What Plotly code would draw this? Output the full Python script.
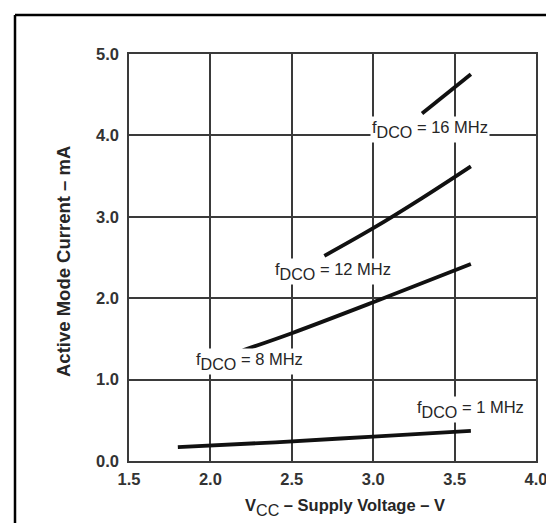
import plotly.graph_objects as go

# Data
v_1mhz = [1.8, 2.4, 3.0, 3.6]
i_1mhz = [0.17, 0.23, 0.30, 0.37]

v_8mhz = [2.2, 2.5, 3.0, 3.6]
i_8mhz = [1.36, 1.57, 1.95, 2.42]

v_12mhz = [2.7, 3.0, 3.3, 3.6]
i_12mhz = [2.52, 2.86, 3.23, 3.62]

v_16mhz = [3.3, 3.6]
i_16mhz = [4.27, 4.75]

x_ticks = [1.5, 2.0, 2.5, 3.0, 3.5, 4.0]
x_tick_labels = ["1.5", "2.0", "2.5", "3.0", "3.5", "4.0"]
y_ticks = [0.0, 1.0, 2.0, 3.0, 4.0, 5.0]
y_tick_labels = ["0.0", "1.0", "2.0", "3.0", "4.0", "5.0"]

labels = ["1 MHz", "8 MHz", "12 MHz", "16 MHz"]
label_x = [3.6, 2.24, 2.75, 3.35]
label_y = [0.63, 1.22, 2.33, 4.07]

FONT = "Liberation Sans, Arial, Helvetica, sans-serif"
GRID = "#3a3a3a"
TXT = "#262626"

fig = go.Figure()
for xs, ys in [(v_1mhz, i_1mhz), (v_8mhz, i_8mhz), (v_12mhz, i_12mhz), (v_16mhz, i_16mhz)]:
    fig.add_trace(go.Scatter(x=xs, y=ys, mode="lines",
                             line=dict(color="#111111", width=3.8, shape="spline"),
                             showlegend=False, hoverinfo="skip"))

annotations = []
for lab, lx, ly in zip(labels, label_x, label_y):
    annotations.append(dict(
        x=lx, y=ly, xref="x", yref="y", showarrow=False,
        text=('<span style="font-size:16.5px">f</span><sub>DCO</sub>'
              '<span style="font-size:16.5px"> = ' + lab + '</span>'),
        font=dict(family=FONT, size=23, color=TXT),
        bgcolor="white", borderpad=1,
    ))

annotations.append(dict(
    x=(337 - 121) / 407, y=-(499 - 453) / 407, xref="paper", yref="paper",
    showarrow=False,
    text=('<b><span style="font-size:16.5px">V</span></b><sub>CC</sub>'
          '<b><span style="font-size:16.5px"> – Supply Voltage – V</span></b>'),
    font=dict(family=FONT, size=23, color=TXT),
    xanchor="center", yanchor="middle",
))
annotations.append(dict(
    x=-(121 - 55) / 407, y=(453 - 254) / 407, xref="paper", yref="paper",
    showarrow=False, text="<b>Active Mode Current – mA</b>", textangle=-90,
    font=dict(family=FONT, size=18.5, color=TXT),
    xanchor="center", yanchor="middle",
))

shapes = [
    dict(type="line", xref="paper", yref="paper",
         x0=-(121 - 7) / 407, x1=-(121 - 7) / 407,
         y0=(453 - 7) / 407, y1=-(560 - 453) / 407,
         line=dict(color="black", width=2.5)),
    dict(type="line", xref="paper", yref="paper",
         x0=-(121 - 7) / 407, x1=(600 - 121) / 407,
         y0=(453 - 7) / 407, y1=(453 - 7) / 407,
         line=dict(color="black", width=2.5)),
]

fig.update_layout(
    width=554, height=523,
    margin=dict(l=121, r=26, t=46, b=70),
    paper_bgcolor="white", plot_bgcolor="white",
    annotations=annotations, shapes=shapes,
    showlegend=False,
)
tick_font = dict(family=FONT, size=16.5, color="#333333", weight="bold")
fig.update_xaxes(range=[1.5, 4.0], tickvals=x_ticks, ticktext=x_tick_labels,
                 showgrid=True, gridcolor=GRID, gridwidth=1.5,
                 showline=True, linecolor=GRID, linewidth=1.5, mirror=True,
                 zeroline=False, ticks="", ticklabelstandoff=2,
                 tickfont=tick_font)
fig.update_yaxes(range=[0.0, 5.0], tickvals=y_ticks, ticktext=y_tick_labels,
                 showgrid=True, gridcolor=GRID, gridwidth=1.5,
                 showline=True, linecolor=GRID, linewidth=1.5, mirror=True,
                 zeroline=False, ticks="", ticklabelstandoff=5,
                 tickfont=tick_font)

fig.write_html("out.html")
